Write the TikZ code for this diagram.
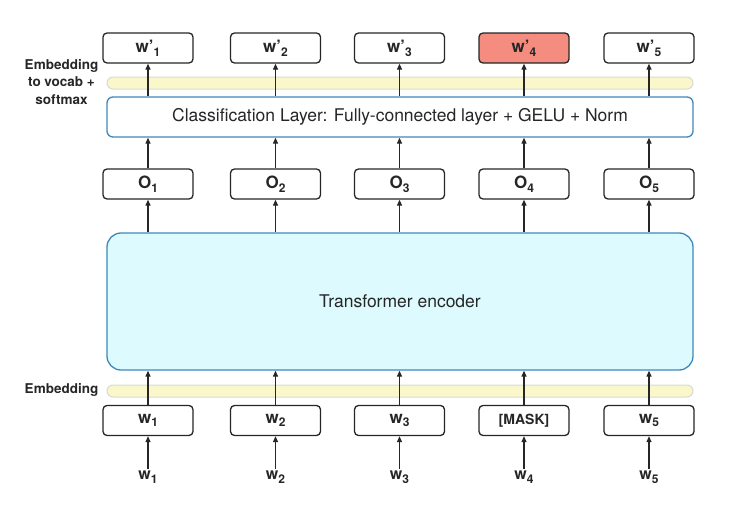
\documentclass[tikz,border=0pt]{standalone}
\usepackage{fontspec}
\setmainfont{TeX Gyre Heros}
\usetikzlibrary{arrows.meta}
\definecolor{encfill}{HTML}{DDFBFE}
\definecolor{encdraw}{HTML}{3F88BC}
\definecolor{bandfill}{HTML}{FAF8CA}
\definecolor{banddraw}{HTML}{D5DCD3}
\definecolor{redfill}{HTML}{F48C7F}
\definecolor{ink}{HTML}{262626}
\newcommand{\lsub}[1]{\raisebox{-0.22em}{\fontsize{12}{12}\selectfont #1}}
\begin{document}
\begin{tikzpicture}[x=1pt,y=-1pt,
  tok/.style={draw=ink, line width=1.3pt, rounded corners=4pt, minimum width=90pt, minimum height=30pt, fill=white, inner sep=0pt, font=\fontsize{17}{17}\selectfont\bfseries, text=ink},
  wide/.style={draw=encdraw, line width=1.3pt, minimum width=586pt, inner sep=0pt, text=ink},
  band/.style={draw=banddraw, line width=1pt, fill=bandfill, rounded corners=6pt, minimum width=586pt, minimum height=12pt, inner sep=0pt},
  side/.style={font=\fontsize{13.5}{17.5}\selectfont\bfseries, text=ink, align=center, inner sep=0pt},
  inlab/.style={font=\fontsize{16}{16}\selectfont\bfseries, text=ink, inner sep=2pt},
  arr/.style={draw=ink, line width=1.2pt, -{Triangle[length=6pt,width=5pt]}}
]
\useasboundingbox (0,0) rectangle (745,514);

% bands
\node[band] (topband) at (400,83) {};
\node[band] (botband) at (400,391) {};

% wide layers
\node[wide, fill=white, rounded corners=6pt, minimum height=40pt, font=\fontsize{17.5}{17.5}\selectfont] (cls) at (400,117) {Classification Layer: Fully-connected layer + GELU + Norm};
\node[wide, fill=encfill, rounded corners=14pt, minimum height=137pt, font=\fontsize{17.5}{17.5}\selectfont] (enc) at (400,301.5) {Transformer encoder};

% top output tokens
\node[tok] (wp1) at (148,48) {w’\lsub{1}};
\node[tok] (wp2) at (275.5,48) {w’\lsub{2}};
\node[tok] (wp3) at (399.5,48) {w’\lsub{3}};
\node[tok, fill=redfill] (wp4) at (524,48) {w’\lsub{4}};
\node[tok] (wp5) at (649,48) {w’\lsub{5}};

% O boxes
\node[tok] (o1) at (148,184) {O\lsub{1}};
\node[tok] (o2) at (275.5,184) {O\lsub{2}};
\node[tok] (o3) at (399.5,184) {O\lsub{3}};
\node[tok] (o4) at (524,184) {O\lsub{4}};
\node[tok] (o5) at (649,184) {O\lsub{5}};

% input boxes
\node[tok] (w1) at (148,420.5) {w\lsub{1}};
\node[tok] (w2) at (275.5,420.5) {w\lsub{2}};
\node[tok] (w3) at (399.5,420.5) {w\lsub{3}};
\node[tok, font=\fontsize{14}{14}\selectfont\bfseries] (w4) at (524,420.5) {[MASK]};
\node[tok] (w5) at (649,420.5) {w\lsub{5}};

% input labels
\node[inlab] (l1) at (148,477) {w\lsub{1}};
\node[inlab] (l2) at (275.5,477) {w\lsub{2}};
\node[inlab] (l3) at (399.5,477) {w\lsub{3}};
\node[inlab] (l4) at (524,477) {w\lsub{4}};
\node[inlab] (l5) at (649,477) {w\lsub{5}};

% side labels
\node[side] (sidetop) at (61.5,82) {Embedding\\to vocab +\\softmax};
\node[side] (sidebot) at (61.5,390) {Embedding};

% arrows
\foreach \i in {1,...,5}{
  \draw[arr] (o\i.north) -- (o\i.north |- cls.south);
  \draw[arr] (o\i.north |- cls.north) -- (wp\i.south);
  \draw[arr] (o\i.north |- enc.north) -- (o\i.south);
  \draw[arr] (w\i.north) -- (w\i.north |- enc.south);
  \draw[arr] (l\i.north) -- (w\i.south);
}
\end{tikzpicture}
\end{document}
